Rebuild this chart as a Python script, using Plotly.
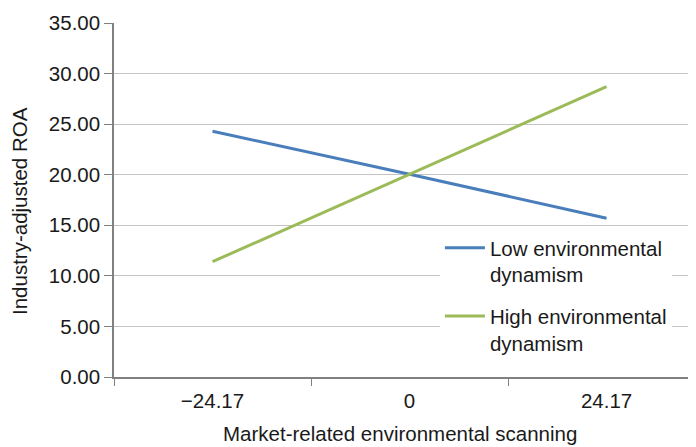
import plotly.graph_objects as go

categories = ["\u221224.17", "0", "24.17"]
low_dyn = [24.3, 20.05, 15.7]
high_dyn = [11.4, 20.05, 28.7]
y_ticks = [0, 5, 10, 15, 20, 25, 30, 35]
x_title = "Market-related environmental scanning"
y_title = "Industry-adjusted ROA"

FS = 20.5

fig = go.Figure()
fig.add_trace(go.Scatter(x=categories, y=low_dyn, mode="lines",
                         name="Low environmental<br>dynamism", legendgroup="low",
                         line=dict(color="#4a7ebb", width=3)))
fig.add_trace(go.Scatter(x=categories, y=high_dyn, mode="lines",
                         name="High environmental<br>dynamism", legendgroup="high",
                         line=dict(color="#9bbb59", width=3)))

fig.update_layout(
    # page body has an 8px default margin; size compensates so the plot fills 696x447
    width=688, height=439,
    margin=dict(l=106, r=0, t=15, b=70),
    paper_bgcolor="white", plot_bgcolor="white",
    font=dict(family="Liberation Sans, Arial", size=FS, color="#1a1a1a"),
    showlegend=True,
    legend=dict(x=0.56, y=0.421, xanchor="left", yanchor="top",
                bgcolor="white", valign="top", traceorder="grouped",
                tracegroupgap=12, font=dict(size=FS), itemwidth=40),
    xaxis=dict(type="category", range=[-0.5, 2.454], automargin=False,
               showline=True, linecolor="#808080", linewidth=1.5,
               ticks="outside", tickson="boundaries", ticklen=7, tickcolor="#808080",
               showgrid=False, tickfont=dict(size=FS), ticklabelstandoff=5),
    yaxis=dict(range=[0, 35], tickvals=y_ticks, tickformat=".2f", automargin=False,
               showline=True, linecolor="#808080", linewidth=1.5,
               ticks="outside", ticklen=8, tickcolor="#808080",
               showgrid=True, gridcolor="#c4c4c4", gridwidth=1, zeroline=False,
               tickfont=dict(size=FS)),
    annotations=[
        dict(text=x_title, xref="paper", yref="paper", x=0.491, y=-0.161,
             xanchor="center", yanchor="middle", showarrow=False,
             font=dict(size=FS)),
        dict(text=y_title, xref="paper", yref="paper", x=-0.1615, y=0.469,
             xanchor="center", yanchor="middle", textangle=-90, showarrow=False,
             font=dict(size=FS)),
    ],
)

fig.write_html("out.html")
